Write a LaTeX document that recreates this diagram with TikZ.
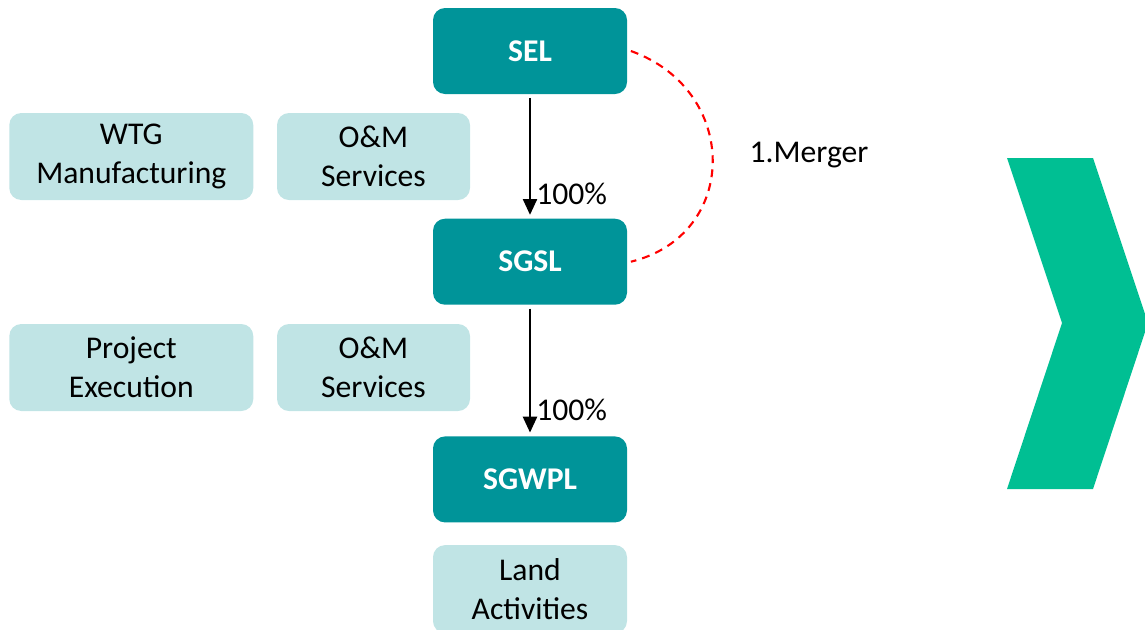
\documentclass[tikz,border=0pt]{standalone}
\usepackage{fontspec}
\setmainfont{Carlito}
\usepackage{xcolor}
\usetikzlibrary{arrows.meta, positioning}
\definecolor{tealdark}{HTML}{009499}
\definecolor{teallight}{HTML}{C0E4E5}
\definecolor{chevgreen}{HTML}{00BF93}

\begin{document}
\begin{tikzpicture}[
    entity/.style={rectangle, rounded corners=0.24cm, fill=tealdark, text=white, minimum width=3.88cm, minimum height=1.72cm, align=center, font=\fontsize{18}{22}\selectfont\bfseries},
    activity/.style={rectangle, rounded corners=0.24cm, fill=teallight, minimum width=3.86cm, minimum height=1.74cm, align=center, font=\fontsize{18}{22}\selectfont},
    arrow/.style={-{Triangle[length=9pt,width=8pt]}, line width=1.2pt, shorten <=2pt, shorten >=2pt},
    share/.style={font=\fontsize{18}{22}\selectfont, right, inner sep=3pt}
]
    \path[use as bounding box, clip] (0,0) rectangle (22.9,-12.58);

    \node[entity] (sel) at (10.6,-1.02) {SEL};
    \node[entity, below=2.48cm of sel] (sgsl) {SGSL};
    \node[entity, below=2.62cm of sgsl] (sgwpl) {SGWPL};
    \node[activity, minimum width=3.88cm, minimum height=1.76cm, below=0.44cm of sgwpl] (land) {Land\\Activities};

    \node[activity] (om1) at (7.47,-3.13) {O\&M\\Services};
    \node[activity, minimum width=4.88cm, left=0.46cm of om1] (wtg) {WTG\\Manufacturing};
    \node[activity] (om2) at (7.47,-7.35) {O\&M\\Services};
    \node[activity, minimum width=4.88cm, left=0.46cm of om2] (proj) {Project\\Execution};

    % Shareholding
    \draw[arrow] (sel) -- node[share, pos=0.8] {100\%} (sgsl);
    \draw[arrow] (sgsl) -- node[share, pos=0.8] {100\%} (sgwpl);

    % Merger
    \draw[red, dashed, line width=1.2pt, dash pattern=on 4.5pt off 3.5pt]
        ([xshift=2pt]sel.east) .. controls (14.8,-1.8) and (14.8,-4.7) .. ([xshift=2pt]sgsl.east);
    \node[font=\fontsize{18}{22}\selectfont] (merger) at (16.18,-3.1) {1.Merger};

    % Chevron
    \fill[chevgreen] (20.14,-3.16) -- (21.86,-3.16) -- (22.96,-6.46) -- (21.86,-9.78)
        -- (20.14,-9.78) -- (21.24,-6.46) -- cycle;
\end{tikzpicture}
\end{document}
